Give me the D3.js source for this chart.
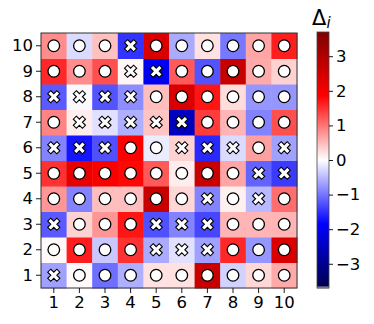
<!DOCTYPE html>
<html>
<head>
<meta charset="utf-8">
<script src="https://cdn.jsdelivr.net/npm/d3@7"></script>
<style>
  body { margin: 0; background: #fff; }
  text { font-family: "DejaVu Sans", sans-serif; }
</style>
</head>
<body>
<script>
// grid labels
const cols = [1, 2, 3, 4, 5, 6, 7, 8, 9, 10];
const rows = [1, 2, 3, 4, 5, 6, 7, 8, 9, 10];

// Delta_i per row (row 1 .. row 10), columns 1..10
const delta = [
  [-0.69, 0.04, -1.05, -0.58, 0.22, 0.22, 2.66, -0.33, 0.29, 0.62],
  [0.05, 1.63, -0.40, 1.49, -0.62, -0.22, -0.69, 1.56, -0.76, 2.37],
  [-1.20, 0.33, 0.76, 1.70, -1.27, -0.90, -1.34, 0.54, 0.54, 0.54],
  [0.76, -0.90, 0.47, 0.47, 2.66, 0.29, -0.90, 0.11, -0.51, 1.05],
  [1.49, 2.22, 1.90, 1.80, 1.20, 0.14, 2.66, 0.65, -1.13, -1.42],
  [-0.90, -1.70, -1.27, 1.85, -0.14, 0.33, -1.56, -0.26, 0.69, -0.69],
  [0.90, 0.14, -0.22, -0.58, 0.43, -2.52, 1.42, 0.54, -0.90, 1.27],
  [-1.20, -0.04, -1.24, -0.83, 0.47, 2.37, 1.70, 0.25, -0.76, -0.76],
  [1.56, 0.83, 1.27, 0.07, -2.01, 1.20, -1.24, 2.66, 0.62, 0.33],
  [0.83, -0.26, 0.46, -1.48, 2.37, -0.62, 0.22, -0.98, 0.65, 1.63]
];

// marker type per cell: "o" circle, "x" cross
const marks = [
  "xooooooooo",
  "ooooxxxooo",
  "xoooxxxooo",
  "ooooooxoxo",
  "ooooooooxx",
  "xxxooxxxox",
  "oxxxxxoooo",
  "xxxxoooooo",
  "oooxxooooo",
  "oooxoooooo"
];

const colorTicks = [-3, -2, -1, 0, 1, 2, 3];
const vmax = 3.7;

const width = 374, height = 324;
const svg = d3.select("body").append("svg")
  .attr("width", width)
  .attr("height", height);

const x = d3.scaleBand().domain(cols).range([41, 297]);
const y = d3.scaleBand().domain(rows).range([288, 33]);

// seismic colormap
const color = d3.scaleLinear()
  .domain([-vmax, -vmax / 2, 0, vmax / 2, vmax])
  .range(["#00004d", "#0000ff", "#ffffff", "#ff0000", "#800000"])
  .clamp(true);

const cells = [];
rows.forEach((r, i) => cols.forEach((c, j) => {
  cells.push({ r, c, v: delta[i][j], m: marks[i][j] });
}));

svg.append("g").selectAll("rect")
  .data(cells)
  .join("rect")
  .attr("x", d => x(d.c))
  .attr("y", d => y(d.r))
  .attr("width", x.bandwidth() + 0.5)
  .attr("height", y.bandwidth() + 0.5)
  .attr("fill", d => color(d.v));

const crossPath = d3.symbol().type(d3.symbolCross).size(92)();

const mk = svg.append("g").selectAll("g")
  .data(cells)
  .join("g")
  .attr("transform", d => `translate(${x(d.c) + x.bandwidth() / 2},${y(d.r) + y.bandwidth() / 2})`);

mk.filter(d => d.m === "o").append("circle")
  .attr("r", 5.8)
  .attr("fill", "#fff")
  .attr("stroke", "#000")
  .attr("stroke-width", 1.3);

mk.filter(d => d.m === "x").append("path")
  .attr("d", crossPath)
  .attr("transform", "rotate(45)")
  .attr("fill", "#fff")
  .attr("stroke", "#000")
  .attr("stroke-width", 1.1);

// frame
svg.append("rect")
  .attr("x", 41).attr("y", 33)
  .attr("width", 256).attr("height", 255)
  .attr("fill", "none")
  .attr("stroke", "#333")
  .attr("stroke-width", 1);

// axes
const xAxis = svg.append("g")
  .attr("transform", "translate(0,288)")
  .call(d3.axisBottom(x).tickSize(5).tickPadding(3));
const yAxis = svg.append("g")
  .attr("transform", "translate(41,0)")
  .call(d3.axisLeft(y).tickSize(5).tickPadding(3));
[xAxis, yAxis].forEach(a => {
  a.select(".domain").remove();
  a.selectAll("line").attr("stroke", "#000").attr("stroke-width", 0.9);
  a.selectAll("text").attr("font-size", 16.5).attr("fill", "#000")
    .style("font-family", "DejaVu Sans, sans-serif");
});

// colorbar
const cb = d3.scaleLinear().domain([-vmax, vmax]).range([288, 32]);
const defs = svg.append("defs");
const grad = defs.append("linearGradient")
  .attr("id", "cbar")
  .attr("x1", 0).attr("y1", 1).attr("x2", 0).attr("y2", 0);
d3.range(0, 1.0001, 0.05).forEach(t => {
  grad.append("stop")
    .attr("offset", t)
    .attr("stop-color", color(-vmax + 2 * vmax * t));
});
svg.append("rect")
  .attr("x", 317).attr("y", 32)
  .attr("width", 12).attr("height", 256)
  .attr("fill", "url(#cbar)");
svg.append("rect")
  .attr("x", 317).attr("y", 286.5)
  .attr("width", 12).attr("height", 2)
  .attr("fill", "#999");
svg.append("rect")
  .attr("x", 317).attr("y", 32)
  .attr("width", 12).attr("height", 256)
  .attr("fill", "none")
  .attr("stroke", "#444")
  .attr("stroke-width", 0.8);

const cAxis = svg.append("g")
  .attr("transform", "translate(329,0)")
  .call(d3.axisRight(cb).tickValues(colorTicks)
    .tickFormat(d => d < 0 ? "\u2212" + Math.abs(d) : d)
    .tickSize(4).tickPadding(3));
cAxis.select(".domain").remove();
cAxis.selectAll("line").attr("stroke", "#000").attr("stroke-width", 0.9);
cAxis.selectAll("text").attr("font-size", 16.5).attr("fill", "#000")
  .style("font-family", "DejaVu Sans, sans-serif");

const title = svg.append("text")
  .attr("x", 312)
  .attr("y", 25)
  .attr("font-size", 21)
  .attr("fill", "#000");
title.append("tspan").text("\u0394");
title.append("tspan")
  .attr("font-size", 15)
  .attr("font-style", "italic")
  .attr("dy", 3)
  .text("i");
</script>
</body>
</html>
